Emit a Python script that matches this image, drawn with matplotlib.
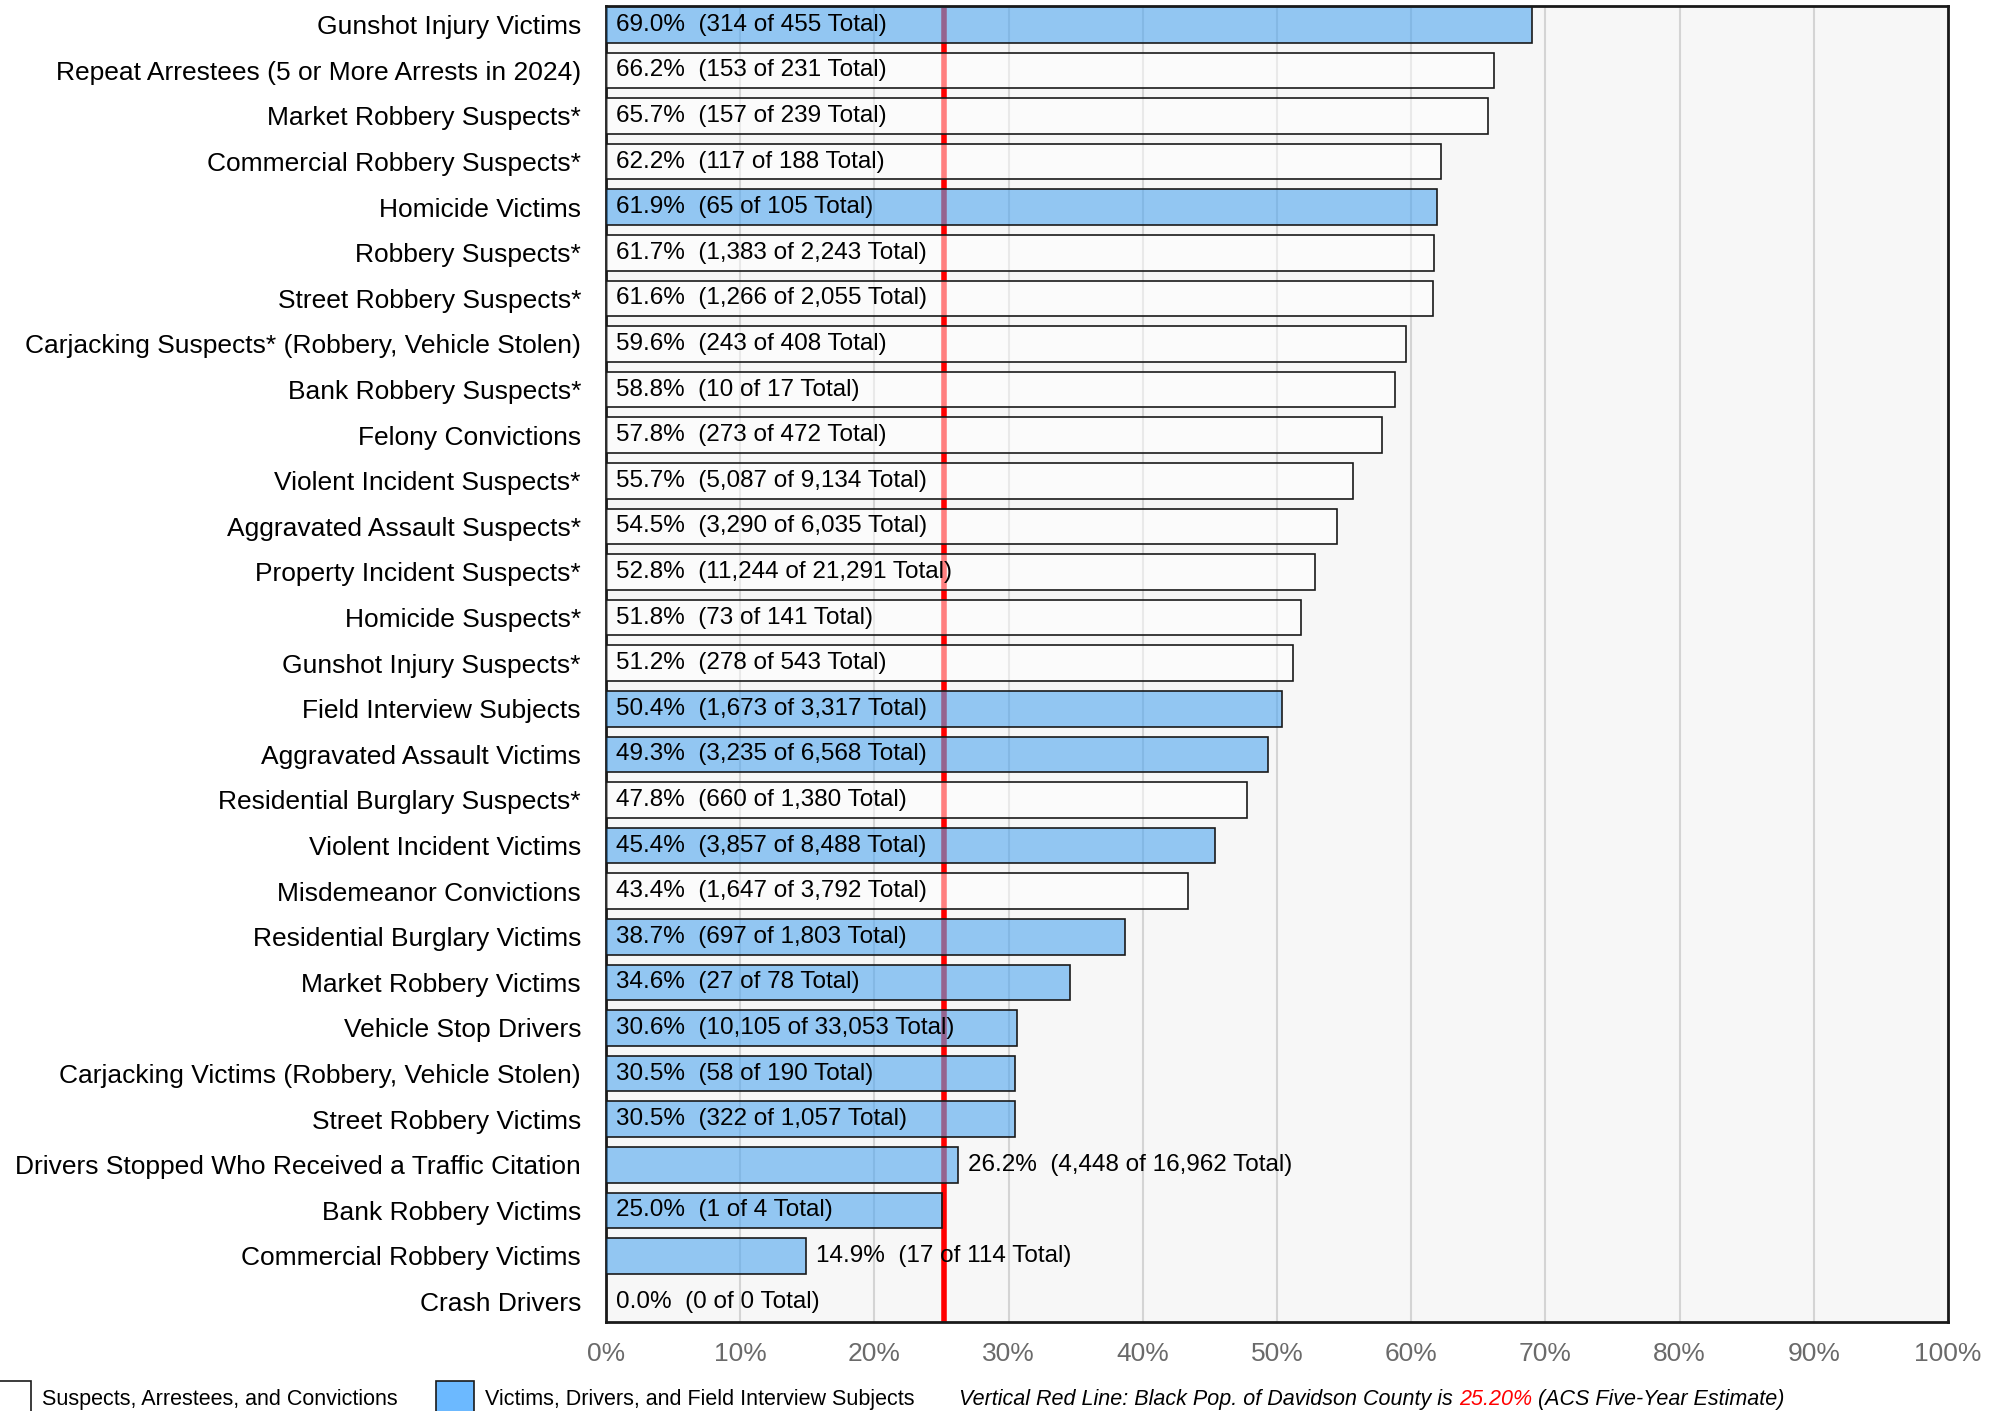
import matplotlib
matplotlib.use("Agg")
import matplotlib.pyplot as plt
from matplotlib.patches import Rectangle

categories = [
    "Gunshot Injury Victims",
    "Repeat Arrestees (5 or More Arrests in 2024)",
    "Market Robbery Suspects*",
    "Commercial Robbery Suspects*",
    "Homicide Victims",
    "Robbery Suspects*",
    "Street Robbery Suspects*",
    "Carjacking Suspects* (Robbery, Vehicle Stolen)",
    "Bank Robbery Suspects*",
    "Felony Convictions",
    "Violent Incident Suspects*",
    "Aggravated Assault Suspects*",
    "Property Incident Suspects*",
    "Homicide Suspects*",
    "Gunshot Injury Suspects*",
    "Field Interview Subjects",
    "Aggravated Assault Victims",
    "Residential Burglary Suspects*",
    "Violent Incident Victims",
    "Misdemeanor Convictions",
    "Residential Burglary Victims",
    "Market Robbery Victims",
    "Vehicle Stop Drivers",
    "Carjacking Victims (Robbery, Vehicle Stolen)",
    "Street Robbery Victims",
    "Drivers Stopped Who Received a Traffic Citation",
    "Bank Robbery Victims",
    "Commercial Robbery Victims",
    "Crash Drivers",
]
pcts = [69.0, 66.2, 65.7, 62.2, 61.9, 61.7, 61.6, 59.6, 58.8, 57.8, 55.7, 54.5,
        52.8, 51.8, 51.2, 50.4, 49.3, 47.8, 45.4, 43.4, 38.7, 34.6, 30.6, 30.5,
        30.5, 26.2, 25.0, 14.9, 0.0]
counts = ["314", "153", "157", "117", "65", "1,383", "1,266", "243", "10", "273",
          "5,087", "3,290", "11,244", "73", "278", "1,673", "3,235", "660", "3,857",
          "1,647", "697", "27", "10,105", "58", "322", "4,448", "1", "17", "0"]
totals = ["455", "231", "239", "188", "105", "2,243", "2,055", "408", "17", "472",
          "9,134", "6,035", "21,291", "141", "543", "3,317", "6,568", "1,380", "8,488",
          "3,792", "1,803", "78", "33,053", "190", "1,057", "16,962", "4", "114", "0"]
# V = victims/drivers/field interview, S = suspects/arrestees/convictions
groups = ["V", "S", "S", "S", "V", "S", "S", "S", "S", "S", "S", "S", "S", "S", "S",
          "V", "V", "S", "V", "S", "V", "V", "V", "V", "V", "V", "V", "V", "V"]
label_outside = ["Drivers Stopped Who Received a Traffic Citation",
                 "Commercial Robbery Victims"]
black_pop = 25.2

plt.rcParams["font.family"] = ["Liberation Sans", "DejaVu Sans"]

fig = plt.figure(figsize=(20, 14.11), dpi=100)
ax = fig.add_axes([0.303, 0.063, 0.671, 0.933])
ax.set_facecolor("#f7f7f7")

blue_face = (0.31, 0.65, 0.94, 0.6)
white_face = (1, 1, 1, 0.5)
ypos = list(range(len(categories)))
faces = [blue_face if g == "V" else white_face for g in groups]

ax.axvline(black_pop, color="#ff0000", lw=4, zorder=2)
ax.barh(ypos, pcts, height=0.78, color=faces, edgecolor="#1a1a1a",
        linewidth=1.2, zorder=3)

for y, cat, p, c, t in zip(ypos, categories, pcts, counts, totals):
    txt = f"{p:.1f}%  ({c} of {t} Total)"
    x = p + 0.75 if cat in label_outside else 0.75
    ax.text(x, y, txt, va="center", ha="left", fontsize=17.5, zorder=5)

ax.set_xlim(0, 100)
ax.set_ylim(len(categories) - 0.55, -0.42)
ax.set_xticks(range(0, 101, 10))
ax.set_xticklabels([f"{v}%" for v in range(0, 101, 10)], fontsize=19,
                   color="#6a6a6a")
ax.set_yticks(ypos)
ax.set_yticklabels(categories, fontsize=19)
ax.tick_params(axis="both", length=0)
ax.tick_params(axis="y", pad=18)
ax.tick_params(axis="x", pad=14)
ax.grid(axis="x", color="#d4d4d4", lw=1.5, zorder=1)
ax.set_axisbelow(True)
for s in ax.spines.values():
    s.set_linewidth(2)
    s.set_color("#1a1a1a")

# legend row at the bottom
ly = 0.008
fig.patches.append(Rectangle((-0.01, -0.01), 0.0255, 0.031, transform=fig.transFigure,
                             facecolor="white", edgecolor="#1a1a1a", lw=1.2))
fig.text(0.021, ly, "Suspects, Arrestees, and Convictions", fontsize=15.5, va="center")
fig.patches.append(Rectangle((0.218, -0.01), 0.019, 0.031, transform=fig.transFigure,
                             facecolor="#6cb9ff", edgecolor="#1a1a1a", lw=1.2))
fig.text(0.2425, ly, "Victims, Drivers, and Field Interview Subjects", fontsize=15.5,
         va="center")
note = fig.text(0.4795, ly, "Vertical Red Line: Black Pop. of Davidson County is ",
                style="italic", fontsize=15.5, va="center")
fig.canvas.draw()
bb = note.get_window_extent().transformed(fig.transFigure.inverted())
pct_txt = fig.text(bb.x1, ly, f"{black_pop:.2f}%", style="italic", fontsize=15.5,
                   va="center", color="#ff0000")
fig.canvas.draw()
bb2 = pct_txt.get_window_extent().transformed(fig.transFigure.inverted())
fig.text(bb2.x1, ly, " (ACS Five-Year Estimate)", style="italic", fontsize=15.5,
         va="center")

fig.savefig("out.png", dpi=100)
